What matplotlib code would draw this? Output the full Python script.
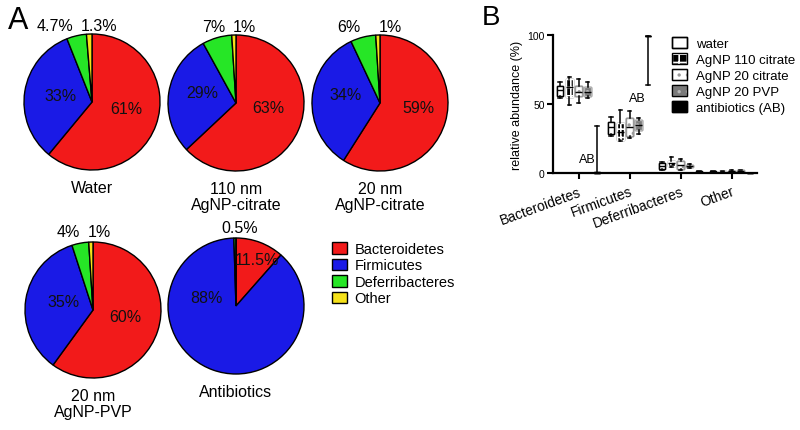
import matplotlib
matplotlib.use('Agg')
import matplotlib.pyplot as plt
from matplotlib.patches import Patch, PathPatch

plt.rcParams['font.family'] = ['Liberation Sans', 'DejaVu Sans']
plt.rcParams['hatch.linewidth'] = 1.2

# ---------------- data ----------------
phyla = ['Bacteroidetes', 'Firmicutes', 'Deferribacteres', 'Other']
pie_colors = ['#F21A1A', '#1A1AE6', '#26E626', '#F5E11A']

pie_titles = ['Water', '110 nm\nAgNP-citrate', '20 nm\nAgNP-citrate',
              '20 nm\nAgNP-PVP', 'Antibiotics']
pie_water = [61, 33, 4.7, 1.3]
pie_110_citrate = [63, 29, 7, 1]
pie_20_citrate = [59, 34, 6, 1]
pie_20_pvp = [60, 35, 4, 1]
pie_antibiotics = [11.5, 88, 0.5, 0]

treatments = ['water', 'AgNP 110 citrate', 'AgNP 20 citrate', 'AgNP 20 PVP',
              'antibiotics (AB)']
# box stats per phylum: [whisker low, q1, median, q3, whisker high]
box_water = [[54, 56, 60, 63, 66], [27, 28.5, 33, 37, 40.5],
             [2.5, 3, 5, 7.5, 8], [0.5, 0.8, 1, 1.4, 1.8]]
box_110_citrate = [[49, 55, 62, 68, 69.5], [23, 24, 30, 36, 46],
                   [4, 5, 7, 9, 11.5], [0.4, 0.7, 1, 1.3, 1.7]]
box_20_citrate = [[51, 56, 59, 63, 68], [25.5, 27, 33, 40, 45],
                  [2.5, 3, 6, 8.5, 10], [0.5, 0.8, 1.1, 1.5, 2]]
box_20_pvp = [[54, 55.5, 59, 62, 66], [28, 31, 35, 38.5, 40],
              [3.8, 4, 5, 6, 6.5], [0.6, 1, 1.4, 2, 2.5]]
box_antibiotics = [[0, 0, 0.3, 1, 34], [64, 99, 99, 99, 99],
                   [0.3, 0.5, 0.8, 1.2, 1.5], [0, 0, 0.1, 0.2, 0.3]]
ab_marks = ['AB', 'AB']

# ---------------- figure ----------------
W, H = 800, 431
fig = plt.figure(figsize=(W / 100, H / 100), dpi=100)


def px_axes(cx, cy, half):
    return fig.add_axes([(cx - half) / W, (H - cy - half) / H, 2 * half / W, 2 * half / H])


pies = [pie_water, pie_110_citrate, pie_20_citrate, pie_20_pvp, pie_antibiotics]
centers = [(92, 103), (236, 104), (380, 104), (93, 311), (236, 307)]
R = 68
PAD = 1.03
# label placements (in radius units): inner labels for the two big slices,
# outer labels for small slices
inner_pos = [[(0.51, -0.10), (-0.47, 0.09)],
             [(0.47, -0.06), (-0.50, 0.16)],
             [(0.56, -0.06), (-0.51, 0.13)],
             [(0.47, -0.10), (-0.44, 0.13)],
             [(0.31, 0.68), (-0.43, 0.13)]]
outer_pos = [[(-0.55, 1.13), (0.11, 1.13)],
             [(-0.32, 1.13), (0.13, 1.13)],
             [(-0.46, 1.13), (0.15, 1.13)],
             [(-0.37, 1.15), (0.09, 1.15)],
             [(0.05, 1.15), None]]


def fmt(v):
    return f"{v:g}%"


for k, (vals, (cx, cy)) in enumerate(zip(pies, centers)):
    ax = px_axes(cx, cy, R * PAD)
    ax.pie(vals, colors=pie_colors, startangle=90, counterclock=False, radius=1,
           wedgeprops=dict(edgecolor='black', linewidth=1.0))
    ax.set_xlim(-PAD, PAD)
    ax.set_ylim(-PAD, PAD)
    ax.set_aspect('equal')
    ax.axis('off')
    for (x, y), v in zip(inner_pos[k], vals[:2]):
        ax.text(x, y, fmt(v), ha='center', va='center', fontsize=11.5, color='#111111')
    for p, v in zip(outer_pos[k], vals[2:]):
        if p is None:
            continue
        ax.text(p[0], p[1], fmt(v), ha='center', va='center', fontsize=11.5)
    ax.text(0, -1.14, pie_titles[k], ha='center', va='top', fontsize=11.5, linespacing=1.15)

fig.text(18 / W, 1 - 21 / H, 'A', fontsize=22, ha='center', va='center')
fig.text(491 / W, 1 - 18 / H, 'B', fontsize=20, ha='center', va='center')

# pie legend
pie_handles = [Patch(facecolor=c, edgecolor='black', linewidth=1.0) for c in pie_colors]
fig.legend(pie_handles, phyla, loc='upper left', bbox_to_anchor=(332 / W, 1 - 243 / H),
           frameon=False, fontsize=10.5, handlelength=1.0, handleheight=0.85,
           handletextpad=0.55, labelspacing=0.17, borderpad=0, borderaxespad=0)

# ---------------- panel B ----------------
axB = fig.add_axes([553 / W, (H - 174) / H, 204 / W, 138 / H])
axB.set_xlim(-0.5, 3.5)
axB.set_ylim(0, 100)
for s in ['top', 'right']:
    axB.spines[s].set_visible(False)
for s in ['left', 'bottom']:
    axB.spines[s].set_linewidth(1.6)

styles = [
    dict(fc='white', hatch=None, hc='black'),
    dict(fc='black', hatch='++', hc='white'),
    dict(fc='white', hatch='..', hc='#9a9a9a'),
    dict(fc='#7a7a7a', hatch='..', hc='#b5b5b5'),
    dict(fc='black', hatch=None, hc='black'),
]
all_boxes = [box_water, box_110_citrate, box_20_citrate, box_20_pvp, box_antibiotics]
spacing = 0.18
legend_handles = []
for j, (boxes, st) in enumerate(zip(all_boxes, styles)):
    stats = [dict(whislo=b[0], q1=b[1], med=b[2], q3=b[3], whishi=b[4]) for b in boxes]
    pos = [i + (j - 2) * spacing for i in range(len(phyla))]
    res = axB.bxp(stats, positions=pos, widths=0.13, patch_artist=True, showfliers=False,
                  manage_ticks=False,
                  boxprops=dict(facecolor=st['fc'], edgecolor=st['hc'], linewidth=1.0,
                                hatch=st['hatch']),
                  whiskerprops=dict(color='black', linewidth=1.1),
                  capprops=dict(color='black', linewidth=1.1),
                  medianprops=dict(color='black', linewidth=1.0))
    for b in res['boxes']:
        b.set_clip_on(False)
        axB.add_patch(PathPatch(b.get_path(), facecolor='none', edgecolor='black',
                                linewidth=1.0, clip_on=False))
    for key in ['whiskers', 'caps', 'medians']:
        for ln in res[key]:
            ln.set_clip_on(False)
    h1 = Patch(facecolor=st['fc'], edgecolor=st['hc'], hatch=st['hatch'], linewidth=1.0)
    h2 = Patch(facecolor='none', edgecolor='black', linewidth=1.0)
    legend_handles.append((h1, h2))

axB.text(0.167, 10, ab_marks[0], ha='center', va='center', fontsize=9)
axB.text(1.147, 54.7, ab_marks[1], ha='center', va='center', fontsize=9)

axB.set_xticks(range(len(phyla)))
axB.set_xticklabels(phyla, rotation=20, ha='right', rotation_mode='anchor', fontsize=10)
axB.set_yticks([0, 50, 100])
axB.set_yticklabels(['0', '50', '100'], fontsize=7.5)
axB.tick_params(axis='both', direction='out', length=4, width=1.5, pad=2)
axB.tick_params(axis='x', pad=4)
axB.set_ylabel('relative abundance (%)', fontsize=9, labelpad=3)

fig.legend(legend_handles, treatments, loc='upper left',
           bbox_to_anchor=(672 / W, 1 - 38 / H), frameon=False, fontsize=9.5,
           handlelength=1.1, handleheight=0.9, handletextpad=0.7, labelspacing=0.22,
           borderpad=0, borderaxespad=0)

fig.savefig('out.png', dpi=100)
